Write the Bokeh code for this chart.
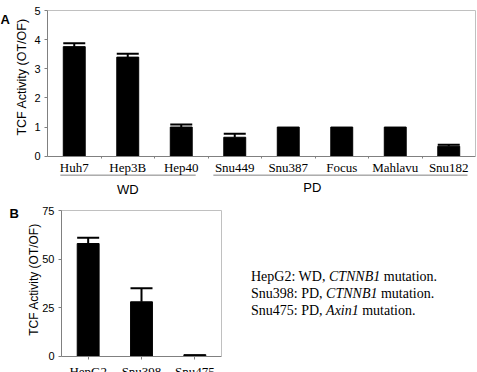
import math

from bokeh.plotting import figure
from bokeh.models import (Range1d, Whisker, TeeHead, ColumnDataSource, Div, FixedTicker,
                          LinearAxis)
from bokeh.layouts import column, row
from bokeh.embed import file_html
from bokeh.resources import INLINE
from bokeh.core.properties import value

# ---- Panel A: TCF reporter activity in HCC cell lines ----
lines_a = ["Huh7", "Hep3B", "Hep40", "Snu449", "Snu387", "Focus", "Mahlavu", "Snu182"]
activity_a = [3.76, 3.40, 1.00, 0.65, 1.00, 1.00, 1.00, 0.34]
error_a = [0.12, 0.12, 0.09, 0.12, 0.0, 0.0, 0.0, 0.05]
wd_lines = ["Huh7", "Hep3B", "Hep40"]
pd_lines = ["Snu449", "Snu387", "Focus", "Mahlavu", "Snu182"]
group_names = ["WD", "PD"]
yticks_a = [0, 1, 2, 3, 4, 5]

# ---- Panel B: lines carrying Wnt pathway mutations ----
lines_b = ["HepG2", "Snu398", "Snu475"]
activity_b = [58.0, 28.0, 0.8]
error_b = [3.0, 7.0, 0.0]
yticks_b = [0, 25, 50, 75]
notes = [
    ("HepG2: WD, ", "CTNNB1", " mutation."),
    ("Snu398: PD, ", "CTNNB1", " mutation."),
    ("Snu475: PD, ", "Axin1", " mutation."),
]

Y_LABEL = "TCF Activity (OT/OF)"
SANS = "Liberation Sans"
SERIF = "Liberation Serif"
AXIS_GREY = "#808080"
BOX_GREY = "#c0c0c0"


def make_panel(width, height, plot_left, plot_right, plot_top, zero_y, ymax, ncat):
    """Figure whose frame fills the canvas; the value box sits at the given pixels."""
    cat_px = (plot_right - plot_left) / ncat
    x0 = -0.5 - plot_left / cat_px
    x1 = x0 + width / cat_px
    unit_px = (zero_y - plot_top) / ymax
    y0 = -(height - zero_y) / unit_px
    y1 = ymax + plot_top / unit_px
    p = figure(width=width, height=height,
               x_range=Range1d(x0, x1), y_range=Range1d(y0, y1),
               output_backend="svg", toolbar_location=None,
               min_border=0, x_axis_type=None, y_axis_type=None)
    p.xgrid.visible = False
    p.ygrid.visible = False
    p.outline_line_color = None
    p.background_fill_color = "white"
    p.border_fill_color = "white"
    return p, cat_px


def add_axes(p, cats, yticks, xtick_out, x_standoff, divider_ticks):
    idx = list(range(len(cats)))

    ya = LinearAxis(fixed_location=-0.5, ticker=FixedTicker(ticks=yticks),
                    bounds=(yticks[0], yticks[-1]))
    ya.axis_line_color = AXIS_GREY
    ya.major_tick_line_color = AXIS_GREY
    ya.major_tick_out = 3
    ya.major_tick_in = 0
    ya.minor_tick_line_color = None
    ya.major_label_text_font = SANS
    ya.major_label_text_font_size = "11px"
    ya.major_label_text_color = "black"
    ya.major_label_standoff = 4
    p.add_layout(ya, "left")

    xa = LinearAxis(fixed_location=0, ticker=FixedTicker(ticks=idx),
                    bounds=(-0.5, len(cats) - 0.5),
                    major_label_overrides={i: c for i, c in zip(idx, cats)})
    xa.axis_line_color = AXIS_GREY
    xa.major_tick_line_color = AXIS_GREY if xtick_out else None
    xa.major_tick_out = xtick_out
    xa.major_tick_in = 0
    xa.minor_tick_line_color = None
    xa.major_label_text_font = SERIF
    xa.major_label_text_font_size = "13px"
    xa.major_label_text_color = "black"
    xa.major_label_standoff = x_standoff
    p.add_layout(xa, "below")

    if divider_ticks:
        # small marks between neighbouring cell lines
        bounds_t = [i + 0.5 for i in idx[:-1]]
        da = LinearAxis(fixed_location=0, ticker=FixedTicker(ticks=bounds_t),
                        axis_line_color=None, major_tick_line_color=AXIS_GREY,
                        major_tick_out=2, major_tick_in=0,
                        minor_tick_line_color=None, major_label_text_alpha=0,
                        major_label_text_font_size="1px")
        p.add_layout(da, "below")

    # light top and right edges of the value box
    top = yticks[-1]
    right = len(cats) - 0.5
    p.segment(x0=[-0.5, right], x1=[right, right], y0=[top, 0], y1=[top, top],
              line_color=BOX_GREY, line_width=1)


def add_bars(p, vals, errs, head):
    idx = list(range(len(vals)))
    p.vbar(x=idx, top=vals, width=0.41, color="black")
    keep = [i for i, e in enumerate(errs) if e > 0]
    src = ColumnDataSource(dict(
        base=keep,
        lower=[vals[i] for i in keep],
        upper=[vals[i] + errs[i] for i in keep],
    ))
    p.add_layout(Whisker(source=src, base="base", lower="lower", upper="upper",
                         dimension="height", line_color="black", line_width=2,
                         upper_head=TeeHead(size=head, line_color="black", line_width=2),
                         lower_head=None))


def add_titles(p, tag, tag_dx, tag_y, title_dx, title_y, title_size, cat_px):
    p.text(x=[-0.5 + title_dx / cat_px], y=[title_y], text=[Y_LABEL],
           angle=math.pi / 2, text_font=value(SANS), text_font_size=title_size,
           text_align="center", text_baseline="middle", text_color="black")
    p.text(x=[-0.5 + tag_dx / cat_px], y=[tag_y], text=[tag],
           text_font=value(SANS), text_font_size="13px", text_font_style="bold",
           text_align="left", text_baseline="middle", text_color="black")


# ---------------- Panel A ----------------
pA, cpx_a = make_panel(477, 200, 47, 475, 10, 155.7, yticks_a[-1], len(lines_a))
add_axes(pA, lines_a, yticks_a, 0, 4, True)
add_bars(pA, activity_a, error_a, 22)

# group brackets and names under the cell-line labels
wd_i = [lines_a.index(c) for c in wd_lines]
pd_i = [lines_a.index(c) for c in pd_lines]
pA.segment(x0=[wd_i[0] - 0.26, pd_i[0] - 0.40],
           x1=[wd_i[-1] + 0.27, pd_i[-1] + 0.35],
           y0=[-0.65, -0.65], y1=[-0.65, -0.65],
           line_color=AXIS_GREY, line_width=1)
pA.text(x=[wd_i[1], pd_i[1] + 0.45], y=[-1.14, -1.07],
        text=group_names, text_font=value(SANS), text_font_size="13px",
        text_align="center", text_baseline="middle", text_color="black")

add_titles(pA, "A", -47, 4.70, -25.5, 2.72, "12.5px", cpx_a)

# ---------------- Panel B ----------------
pB, cpx_b = make_panel(230, 172, 61, 221, 10, 155.7, yticks_b[-1], len(lines_b))
add_axes(pB, lines_b, yticks_b, 3, 5, False)
add_bars(pB, activity_b, error_b, 22)
add_titles(pB, "B", -52, 73.4, -27.7, 39.5, "12px", cpx_b)

# ---------------- mutation notes ----------------
note_html = "<br>".join(f"{a}<i>{g}</i>{b}" for a, g, b in notes)
notes_div = Div(
    text=(f'<div style="padding-left:21px;padding-top:68px;font-family:\'{SERIF}\';'
          f'font-size:14px;line-height:17px;color:black;white-space:nowrap">'
          f'{note_html}</div>'),
    width=247, height=172, margin=0,
)

layout = column(pA, row(pB, notes_div, spacing=0), spacing=0)

with open("out.html", "w") as f:
    f.write(file_html(layout, INLINE))
